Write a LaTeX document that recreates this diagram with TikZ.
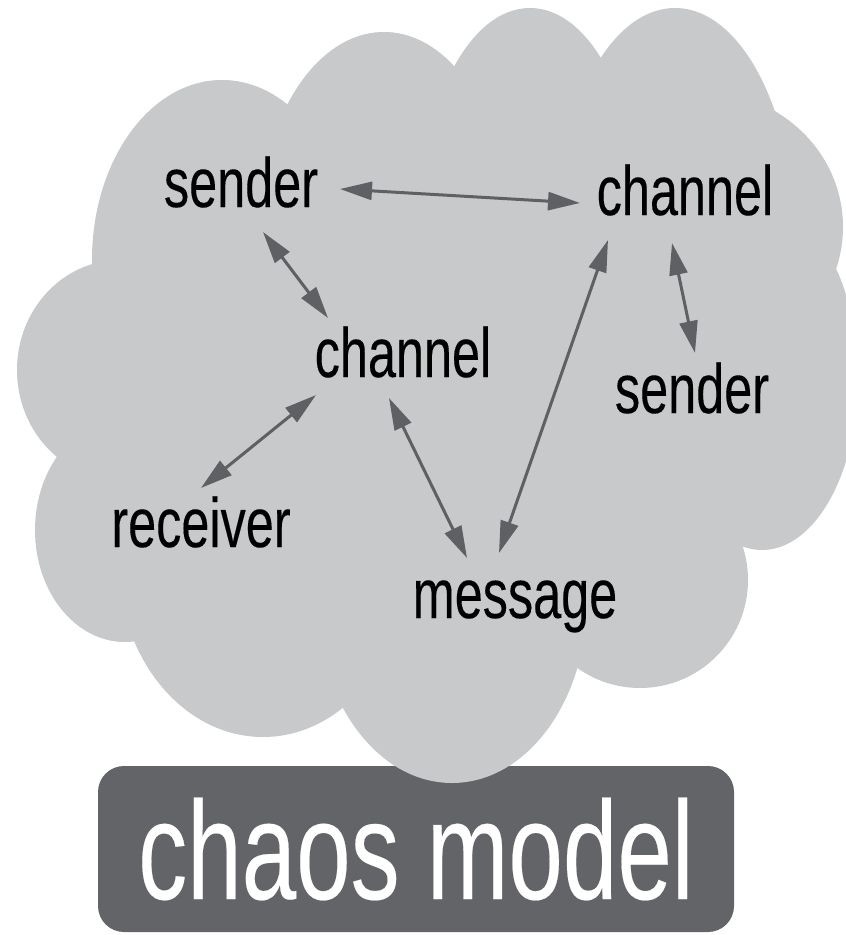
\documentclass[tikz,border=0pt]{standalone}
\usepackage{fontspec}
\setmainfont{Liberation Sans}[FakeStretch=0.72,FakeBold=0.2]
\newfontfamily\titlefont{Liberation Sans}[FakeStretch=0.70,FakeBold=0.15]
\usetikzlibrary{arrows.meta}
\definecolor{cloudgray}{RGB}{200,201,203}
\definecolor{boxgray}{RGB}{99,100,104}
\definecolor{arrowgray}{RGB}{95,96,100}
\begin{document}
\begin{tikzpicture}[x=1pt,y=-1pt,
  lbl/.style={anchor=base, inner sep=0pt, font=\fontsize{70}{70}\selectfont, text=black},
  link/.style={draw=arrowgray, line width=3pt,
    {Triangle[length=32pt,width=18pt]}-{Triangle[length=32pt,width=18pt]}},
  puff/.style={fill=cloudgray},
  titlebox/.style={fill=boxgray, rounded corners=26pt, minimum width=636pt,
    minimum height=166pt, inner sep=0pt, text=white,
    font=\titlefont\fontsize{140}{140}\selectfont}]
\useasboundingbox (0,0) rectangle (846,935);
\clip (0,0) rectangle (846,935);
\fill[white] (0,0) rectangle (846,935);
% title box
\node[titlebox] (model) at (416,849) {chaos model};
% cloud built from overlapping ellipses
\fill[puff] (222,260) ellipse [x radius=130pt, y radius=180pt];
\fill[puff] (384,230) ellipse [x radius=125pt, y radius=198pt];
\fill[puff] (530,220) ellipse [x radius=110pt, y radius=212pt];
\fill[puff] (675,240) ellipse [x radius=120pt, y radius=232pt];
\fill[puff] (700,227) ellipse [x radius=143pt, y radius=136pt];
\fill[puff] (762,378) ellipse [x radius=96pt, y radius=172pt];
\fill[puff] (640,580) ellipse [x radius=108pt, y radius=108pt];
\fill[puff] (452,600) ellipse [x radius=135pt, y radius=183pt];
\fill[puff] (263,560) ellipse [x radius=145pt, y radius=177pt];
\fill[puff] (125,530) ellipse [x radius=90pt, y radius=112pt];
\fill[puff] (120,370) ellipse [x radius=103pt, y radius=110pt];
\fill[puff] (296,108) -- (457,78) -- (600,60) -- (760,115) -- (825,285) --
  (740,540) -- (572,658) -- (340,700) -- (135,632) -- (67,463) -- (100,272) -- cycle;
% labels
\node[lbl] (sender1) at (241,207) {sender};
\node[lbl] (channel1) at (685,215) {channel};
\node[lbl] (channel2) at (403,377) {channel};
\node[lbl] (sender2) at (692,413) {sender};
\node[lbl] (receiver) at (201,547) {receiver};
\node[lbl] (message) at (515,618) {message};
% connectors
\draw[link] ([shift={(99,-18)}]sender1.base) -- ([shift={(-105,-12)}]channel1.base);
\draw[link] ([shift={(22,25)}]sender1.base) -- ([shift={(-75,-59)}]channel2.base);
\draw[link] ([shift={(-77,25)}]channel1.base) -- ([shift={(-16,-65)}]message.base);
\draw[link] ([shift={(-13,28)}]channel1.base) -- ([shift={(3,-60)}]sender2.base);
\draw[link] ([shift={(-87,18)}]channel2.base) -- ([shift={(0,-59)}]receiver.base);
\draw[link] ([shift={(-14,21)}]channel2.base) -- ([shift={(-48,-60)}]message.base);
\end{tikzpicture}
\end{document}
